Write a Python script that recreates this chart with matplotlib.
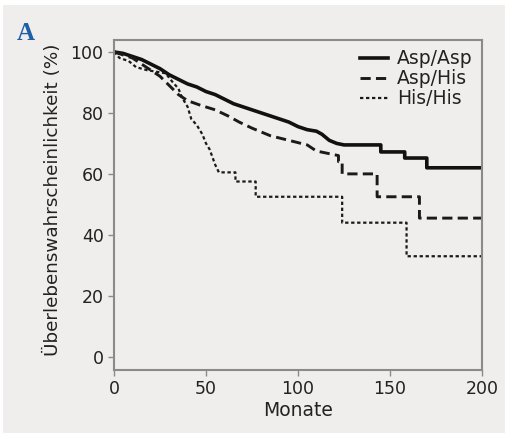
import matplotlib
matplotlib.use("Agg")
import matplotlib.pyplot as plt
from matplotlib.patches import Rectangle

# Kaplan-Meier curves (months, survival %)
# repeated x values mark the visible vertical drops
asp_asp_t = [0, 5, 10, 15, 20, 25, 30, 35, 40, 45, 50, 55, 60, 65, 70, 75, 80,
             85, 90, 95, 100, 105, 110, 113, 117, 121, 125, 145, 145, 158, 158,
             170, 170, 200]
asp_asp_s = [100, 99.5, 98.5, 97.5, 96, 94.5, 92.5, 91, 89.5, 88.5, 87, 86,
             84.5, 83, 82, 81, 80, 79, 78, 77, 75.5, 74.5, 74, 73, 71, 70,
             69.5, 69.5, 67.2, 67.2, 65.2, 65.2, 62, 62]

asp_his_t = [0, 5, 10, 15, 20, 25, 30, 35, 40, 47, 55, 62, 68, 75, 85, 95,
             105, 110, 118, 122, 122, 124, 124, 143, 143, 166, 166, 200]
asp_his_s = [100, 99, 98, 96, 94, 92, 89, 86, 84, 82.5, 81, 79, 77, 75, 72.5,
             71, 69.5, 67.5, 66.5, 66, 64, 64, 60, 60, 52.5, 52.5, 45.5, 45.5]

his_his_t = [0, 3, 8, 12, 18, 28, 32, 35, 37, 40, 42, 45, 48, 50, 52, 55, 57,
             66, 66, 77, 77, 124, 124, 159, 159, 200]
his_his_s = [100, 98, 97, 95, 94, 93, 90, 88, 85, 82, 78, 76, 73, 70, 68, 63,
             60.5, 60.5, 57.5, 57.5, 52.5, 52.5, 44, 44, 33, 33]

labels = ["Asp/Asp", "Asp/His", "His/His"]
x_ticks = [0, 50, 100, 150, 200]
y_ticks = [0, 20, 40, 60, 80, 100]

bg = "#efeeec"
ink = "#222222"
frame = "#8c8a88"

fig = plt.figure(figsize=(5.08, 4.38), dpi=100)
fig.patch.set_facecolor("white")
fig.patches.append(Rectangle((3 / 508, 5 / 438), 502 / 508, 428 / 438,
                             transform=fig.transFigure, facecolor=bg,
                             edgecolor="none", zorder=-10))

ax = fig.add_axes([114 / 508, 68 / 438, 368 / 508, 330 / 438])
ax.set_facecolor(bg)

ax.plot(asp_asp_t, asp_asp_s, color="#111111", lw=2.6, label=labels[0])
ax.plot(asp_his_t, asp_his_s, color="#1a1a1a", lw=2.1,
        dashes=(3.5, 1.8), label=labels[1])
ax.plot(his_his_t, his_his_s, color="#1a1a1a", lw=1.6,
        dashes=(1.5, 1.2), label=labels[2])

ax.set_xlim(0, 200)
ax.set_ylim(-4.3, 103.9)
ax.set_xticks(x_ticks)
ax.set_yticks(y_ticks)
ax.tick_params(colors=frame, labelcolor=ink, labelsize=12.5, length=4,
               width=1)
for sp in ax.spines.values():
    sp.set_color(frame)
    sp.set_linewidth(1.5)

ax.set_xlabel("Monate", fontsize=13.5, color=ink, labelpad=2)
ax.set_ylabel("Überlebenswahrscheinlichkeit (%)", fontsize=13.2, color=ink)
ax.yaxis.set_label_coords(-0.14, 0.515)

leg = ax.legend(loc="upper right", bbox_to_anchor=(1.0, 1.0), frameon=False,
                fontsize=13.5, handlelength=1.5, handletextpad=0.5,
                labelspacing=0.05, borderaxespad=0.1)
for t in leg.get_texts():
    t.set_color(ink)

fig.text(17 / 508, 1 - 40 / 438, "A", family="Liberation Serif",
         fontsize=18, fontweight="bold", color="#1f5fa8")

fig.savefig("out.png", dpi=100)
